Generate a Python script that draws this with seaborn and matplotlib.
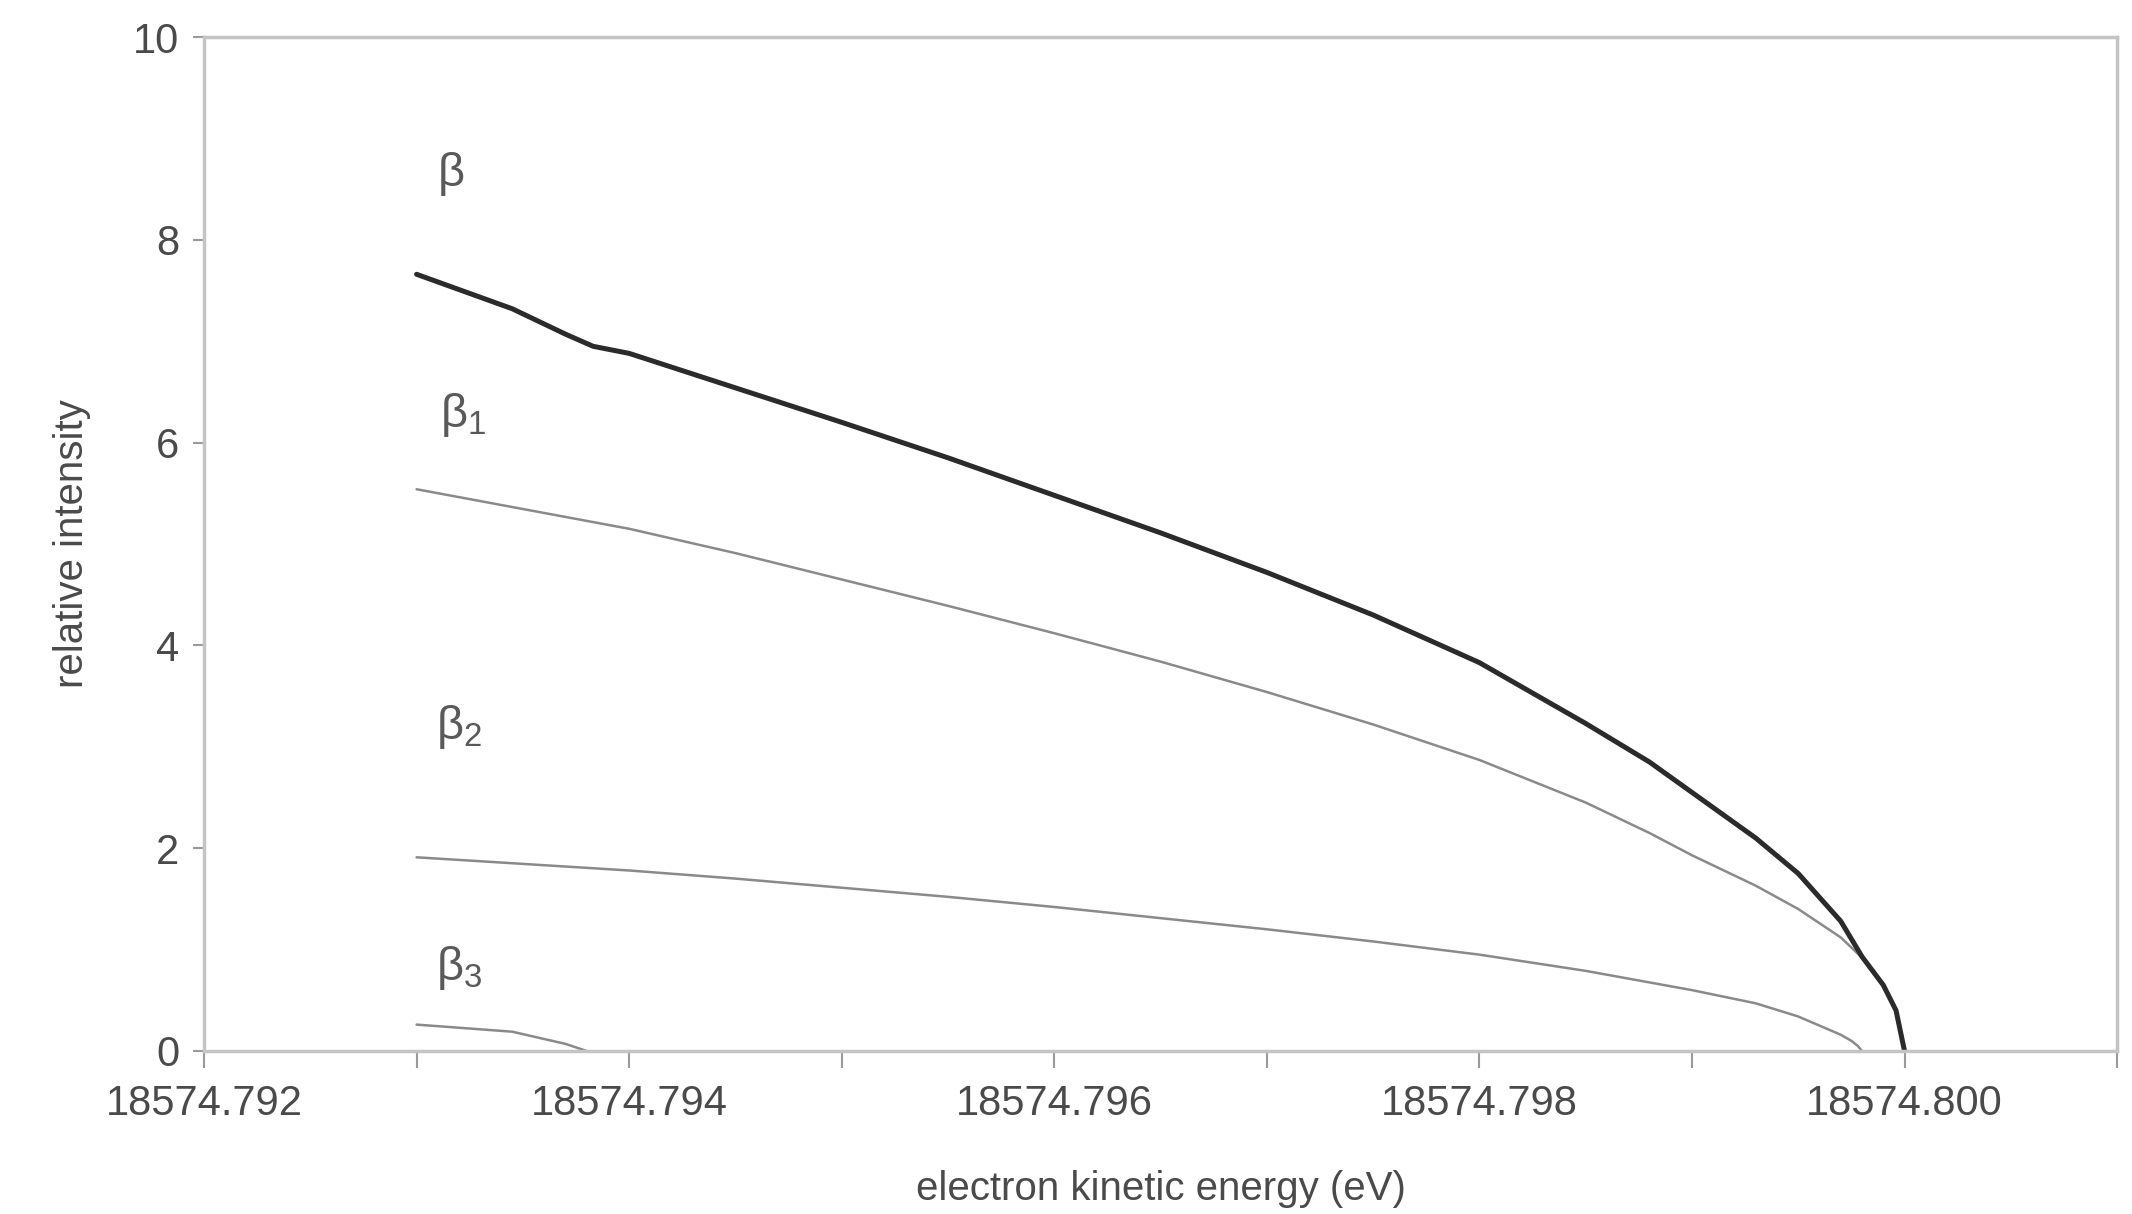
import numpy as np
import pandas as pd
import seaborn as sns
import matplotlib.pyplot as plt
from matplotlib.ticker import MultipleLocator, FormatStrFormatter

# energies in eV
beta_energy = [18574.79300, 18574.79345, 18574.79370, 18574.79383, 18574.79400,
               18574.79450, 18574.79500, 18574.79550, 18574.79600, 18574.79650,
               18574.79700, 18574.79750, 18574.79800, 18574.79850, 18574.79880,
               18574.79900, 18574.79930, 18574.79950, 18574.79970, 18574.79980,
               18574.79990, 18574.79996, 18574.80000]
beta_total = [7.66, 7.32, 7.07, 6.95, 6.88, 6.54, 6.20, 5.85, 5.48, 5.11,
              4.72, 4.30, 3.83, 3.23, 2.85, 2.55, 2.10, 1.75, 1.28, 0.93,
              0.65, 0.40, 0.0]

beta1_energy = [18574.79300, 18574.79400, 18574.79450, 18574.79500, 18574.79550,
                18574.79600, 18574.79650, 18574.79700, 18574.79750, 18574.79800,
                18574.79850, 18574.79880, 18574.79900, 18574.79930, 18574.79950,
                18574.79970, 18574.79980, 18574.79990, 18574.79996, 18574.80000]
beta1 = [5.54, 5.15, 4.91, 4.65, 4.39, 4.12, 3.84, 3.54, 3.22, 2.87,
         2.45, 2.15, 1.93, 1.63, 1.40, 1.12, 0.92, 0.64, 0.40, 0.0]

beta2_energy = [18574.79300, 18574.79400, 18574.79450, 18574.79500, 18574.79550,
                18574.79600, 18574.79650, 18574.79700, 18574.79750, 18574.79800,
                18574.79850, 18574.79900, 18574.79930, 18574.79950, 18574.79970,
                18574.79975, 18574.79978, 18574.79980]
beta2 = [1.91, 1.78, 1.70, 1.61, 1.52, 1.42, 1.31, 1.20, 1.08, 0.95,
         0.79, 0.60, 0.47, 0.34, 0.16, 0.10, 0.05, 0.0]

beta3_energy = [18574.79300, 18574.79345, 18574.79370, 18574.79380]
beta3 = [0.26, 0.19, 0.07, 0.0]

labels = ["β", "$\\beta_1$", "$\\beta_2$", "$\\beta_3$"]
label_x = [18574.79310, 18574.79311, 18574.79309, 18574.79309]
label_y = [8.65, 6.27, 3.2, 0.82]

sns.set_style("white")
plt.rcParams['font.family'] = ['Liberation Sans', 'DejaVu Sans']
plt.rcParams['mathtext.fontset'] = 'custom'
plt.rcParams['mathtext.rm'] = 'Liberation Sans'
plt.rcParams['mathtext.it'] = 'Liberation Sans'

fig = plt.figure(figsize=(21.32, 12.14), dpi=100)
ax = fig.add_axes([0.0957, 0.1343, 0.8973, 0.8352])

thin = "#8a8a8a"
sns.lineplot(x=beta1_energy, y=beta1, ax=ax, color=thin, linewidth=1.8)
sns.lineplot(x=beta2_energy, y=beta2, ax=ax, color=thin, linewidth=1.8)
sns.lineplot(x=beta3_energy, y=beta3, ax=ax, color=thin, linewidth=1.8)
sns.lineplot(x=beta_energy, y=beta_total, ax=ax, color="#2b2b2b", linewidth=3.6)

for txt, lx, ly in zip(labels, label_x, label_y):
    ax.text(lx, ly, txt, fontsize=34, color="#5a5a5a", va="center", ha="left")

ax.set_xlim(18574.792, 18574.801)
ax.set_ylim(0, 10)
ax.xaxis.set_major_locator(MultipleLocator(0.002))
ax.xaxis.set_minor_locator(MultipleLocator(0.001))
ax.xaxis.set_major_formatter(FormatStrFormatter('%.3f'))
ax.yaxis.set_major_locator(MultipleLocator(2))

for s in ax.spines.values():
    s.set_color("#c4c4c4")
    s.set_linewidth(2.5)

ax.tick_params(axis='both', which='both', direction='out', color="#9a9a9a",
               width=1.5, labelcolor="#4a4a4a", labelsize=30)
ax.tick_params(axis='x', which='both', length=12, bottom=True, pad=12)
ax.tick_params(axis='y', which='major', length=8, left=True, pad=10)

ax.set_xlabel("electron kinetic energy (eV)", fontsize=29, color="#4a4a4a", labelpad=33)
ax.set_ylabel("relative intensity", fontsize=29, color="#4a4a4a", labelpad=30)

fig.savefig("out.png", dpi=100, facecolor="white")
